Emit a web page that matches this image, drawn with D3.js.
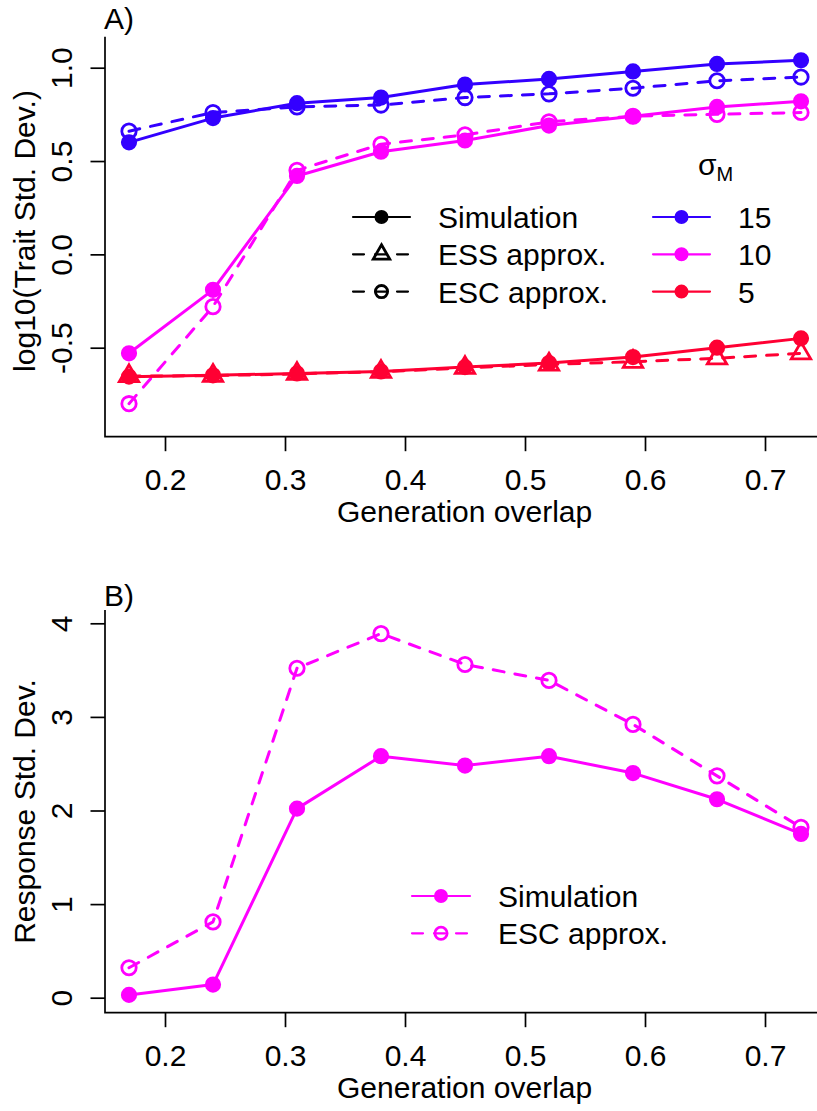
<!DOCTYPE html>
<html>
<head>
<meta charset="utf-8">
<script src="https://cdn.jsdelivr.net/npm/d3@7"></script>
<style>
  html, body { margin: 0; padding: 0; background: #fff; }
  svg { display: block; }
  text { font-family: "Liberation Sans", Arial, Helvetica, sans-serif; fill: #000; }
</style>
</head>
<body>
<svg id="chart" width="817" height="1111"></svg>
<script>
// Generation overlap values shared by both panels
const overlap = [0.17, 0.24, 0.31, 0.38, 0.45, 0.52, 0.59, 0.66, 0.73];

// Panel A: log10 of trait standard deviation, by mutation width sigma_M
const sim15 = [0.60, 0.73, 0.81, 0.84, 0.91, 0.94, 0.98, 1.02, 1.04];
const esc15 = [0.66, 0.76, 0.79, 0.80, 0.84, 0.86, 0.89, 0.93, 0.95];
const sim10 = [-0.53, -0.19, 0.42, 0.55, 0.61, 0.69, 0.74, 0.79, 0.82];
const esc10 = [-0.80, -0.28, 0.45, 0.59, 0.64, 0.71, 0.74, 0.75, 0.76];
const sim5  = [-0.655, -0.648, -0.638, -0.627, -0.604, -0.582, -0.55, -0.50, -0.45];
const ess5  = [-0.652, -0.650, -0.640, -0.629, -0.608, -0.590, -0.575, -0.557, -0.53];

// Panel B: response standard deviation (sigma_M = 10)
const simB = [0.03, 0.14, 2.02, 2.58, 2.48, 2.58, 2.40, 2.12, 1.75];
const escB = [0.32, 0.81, 3.52, 3.89, 3.56, 3.39, 2.92, 2.37, 1.82];

// Ticks and labels
const xTickValues = [0.2, 0.3, 0.4, 0.5, 0.6, 0.7];
const xTickLabels = ["0.2", "0.3", "0.4", "0.5", "0.6", "0.7"];
const yTickValuesA = [-0.5, 0, 0.5, 1.0];
const yTickLabelsA = ["-0.5", "0.0", "0.5", "1.0"];
const yTickValuesB = [0, 1, 2, 3, 4];
const yTickLabelsB = ["0", "1", "2", "3", "4"];

const sigmaLevels = ["15", "10", "5"];
const typeLabels = ["Simulation", "ESS approx.", "ESC approx."];
const colBlue = "#3300ff", colMagenta = "#ff00ff", colRed = "#ff0033";
const sigmaColors = [colBlue, colMagenta, colRed];

const FONT = 30;
const LINE_W = 3;
const DASH = "11,11";
const MARK = 7.2;

const svg = d3.select("#chart");

const x = d3.scaleLinear().domain([0.2, 0.7]).range([165, 765]);
const yA = d3.scaleLinear().domain([-0.5, 1.0]).range([347.7, 67.7]);
const yB = d3.scaleLinear().domain([0, 4]).range([997.7, 623.3]);

// Axes, box (left + bottom) and labels for one panel
function frame(y, top, bottom, yTicks, yLabels, yTitle, yTitleCenter, tag, tagBaseline) {
  const left = 105, right = 817;
  const g = svg.append("g");

  const xa = g.append("g")
    .attr("transform", `translate(0,${bottom})`)
    .call(d3.axisBottom(x).tickValues(xTickValues).tickSize(14.5).tickSizeOuter(0)
      .tickFormat((d, i) => xTickLabels[i]));
  xa.select(".domain").remove();
  xa.selectAll(".tick line").attr("stroke", "#000").attr("stroke-width", 1.7);
  xa.selectAll(".tick text").attr("y", 53).attr("dy", null)
    .attr("font-size", FONT).attr("fill", "#000");

  const ya = g.append("g")
    .attr("transform", `translate(${left},0)`)
    .call(d3.axisLeft(y).tickValues(yTicks).tickSize(14.5).tickSizeOuter(0)
      .tickFormat((d, i) => yLabels[i]));
  ya.select(".domain").remove();
  ya.selectAll(".tick line").attr("stroke", "#000").attr("stroke-width", 1.7);
  ya.selectAll(".tick text").attr("x", null).attr("dy", null)
    .attr("text-anchor", "middle")
    .attr("transform", "translate(-33.3,0) rotate(-90)")
    .attr("font-size", FONT).attr("fill", "#000");

  g.append("path")
    .attr("d", `M${left},${top}V${bottom}H${right}`)
    .attr("fill", "none").attr("stroke", "#000").attr("stroke-width", 1.7);

  g.append("text")
    .attr("x", 464.6).attr("y", bottom + 85.5)
    .attr("text-anchor", "middle").attr("font-size", FONT)
    .text("Generation overlap");

  g.append("text")
    .attr("transform", `translate(35.4,${yTitleCenter}) rotate(-90)`)
    .attr("text-anchor", "middle").attr("font-size", FONT)
    .text(yTitle);

  g.append("text")
    .attr("x", 104).attr("y", tagBaseline)
    .attr("font-size", FONT)
    .text(tag);
}

// Point symbols
function marker(g, kind, cx, cy, color, s) {
  if (kind === "filled") {
    g.append("circle").attr("cx", cx).attr("cy", cy).attr("r", s)
      .attr("fill", color).attr("stroke", color).attr("stroke-width", 1.8);
  } else if (kind === "open") {
    g.append("circle").attr("cx", cx).attr("cy", cy).attr("r", s)
      .attr("fill", "none").attr("stroke", color).attr("stroke-width", 2.8);
  } else {
    const r = 1.555 * s, xc = 1.347 * s, yc = 0.777 * s;
    g.append("path")
      .attr("d", `M${cx},${cy - r}L${cx + xc},${cy + yc}L${cx - xc},${cy + yc}Z`)
      .attr("fill", "none").attr("stroke", color).attr("stroke-width", 2.8)
      .attr("stroke-linejoin", "miter");
  }
}

function series(y, values, color, dashed, kind) {
  const pts = overlap.map((o, i) => [x(o), y(values[i])]);
  const g = svg.append("g");
  g.append("path")
    .attr("d", d3.line()(pts))
    .attr("fill", "none").attr("stroke", color).attr("stroke-width", LINE_W)
    .attr("stroke-linecap", "round").attr("stroke-linejoin", "round")
    .attr("stroke-dasharray", dashed ? DASH : null);
  pts.forEach(p => marker(g, kind, p[0], p[1], color, MARK));
}

function legendRow(x0, x1, yRow, color, dashed, kind, label, textX) {
  const g = svg.append("g");
  g.append("line")
    .attr("x1", x0).attr("x2", x1).attr("y1", yRow).attr("y2", yRow)
    .attr("stroke", color).attr("stroke-width", 2.2)
    .attr("stroke-linecap", "round")
    .attr("stroke-dasharray", dashed ? DASH : null);
  marker(g, kind, (x0 + x1) / 2, yRow, color, MARK * 0.85);
  g.append("text").attr("x", textX).attr("y", yRow + 11)
    .attr("font-size", FONT).text(label);
}

// ---------- Panel A ----------
frame(yA, 36.7, 436.7, yTickValuesA, yTickLabelsA,
  "log10(Trait Std. Dev.)", 231, "A)", 28.8);

series(yA, esc15, colBlue, true, "open");
series(yA, sim15, colBlue, false, "filled");
series(yA, esc10, colMagenta, true, "open");
series(yA, sim10, colMagenta, false, "filled");
series(yA, sim5, colRed, false, "filled");
series(yA, ess5, colRed, true, "triangle");

const rowsA = [217, 254.3, 291.6];
legendRow(353, 410, rowsA[0], "#000", false, "filled", typeLabels[0], 438);
legendRow(353, 410, rowsA[1], "#000", true, "triangle", typeLabels[1], 438);
legendRow(353, 410, rowsA[2], "#000", true, "open", typeLabels[2], 438);
sigmaLevels.forEach((lv, i) =>
  legendRow(653, 710, rowsA[i], sigmaColors[i], false, "filled", lv, 738));

const sigTitle = svg.append("text").attr("x", 698).attr("y", 175).attr("font-size", FONT);
sigTitle.append("tspan").text("σ");
sigTitle.append("tspan").attr("dy", 6).attr("font-size", 20).text("M");

// ---------- Panel B ----------
frame(yB, 610, 1012.7, yTickValuesB, yTickLabelsB,
  "Response Std. Dev.", 811.5, "B)", 605.5);

series(yB, escB, colMagenta, true, "open");
series(yB, simB, colMagenta, false, "filled");

legendRow(412, 470, 896, colMagenta, false, "filled", "Simulation", 498);
legendRow(412, 470, 933.3, colMagenta, true, "open", "ESC approx.", 498);
</script>
</body>
</html>
